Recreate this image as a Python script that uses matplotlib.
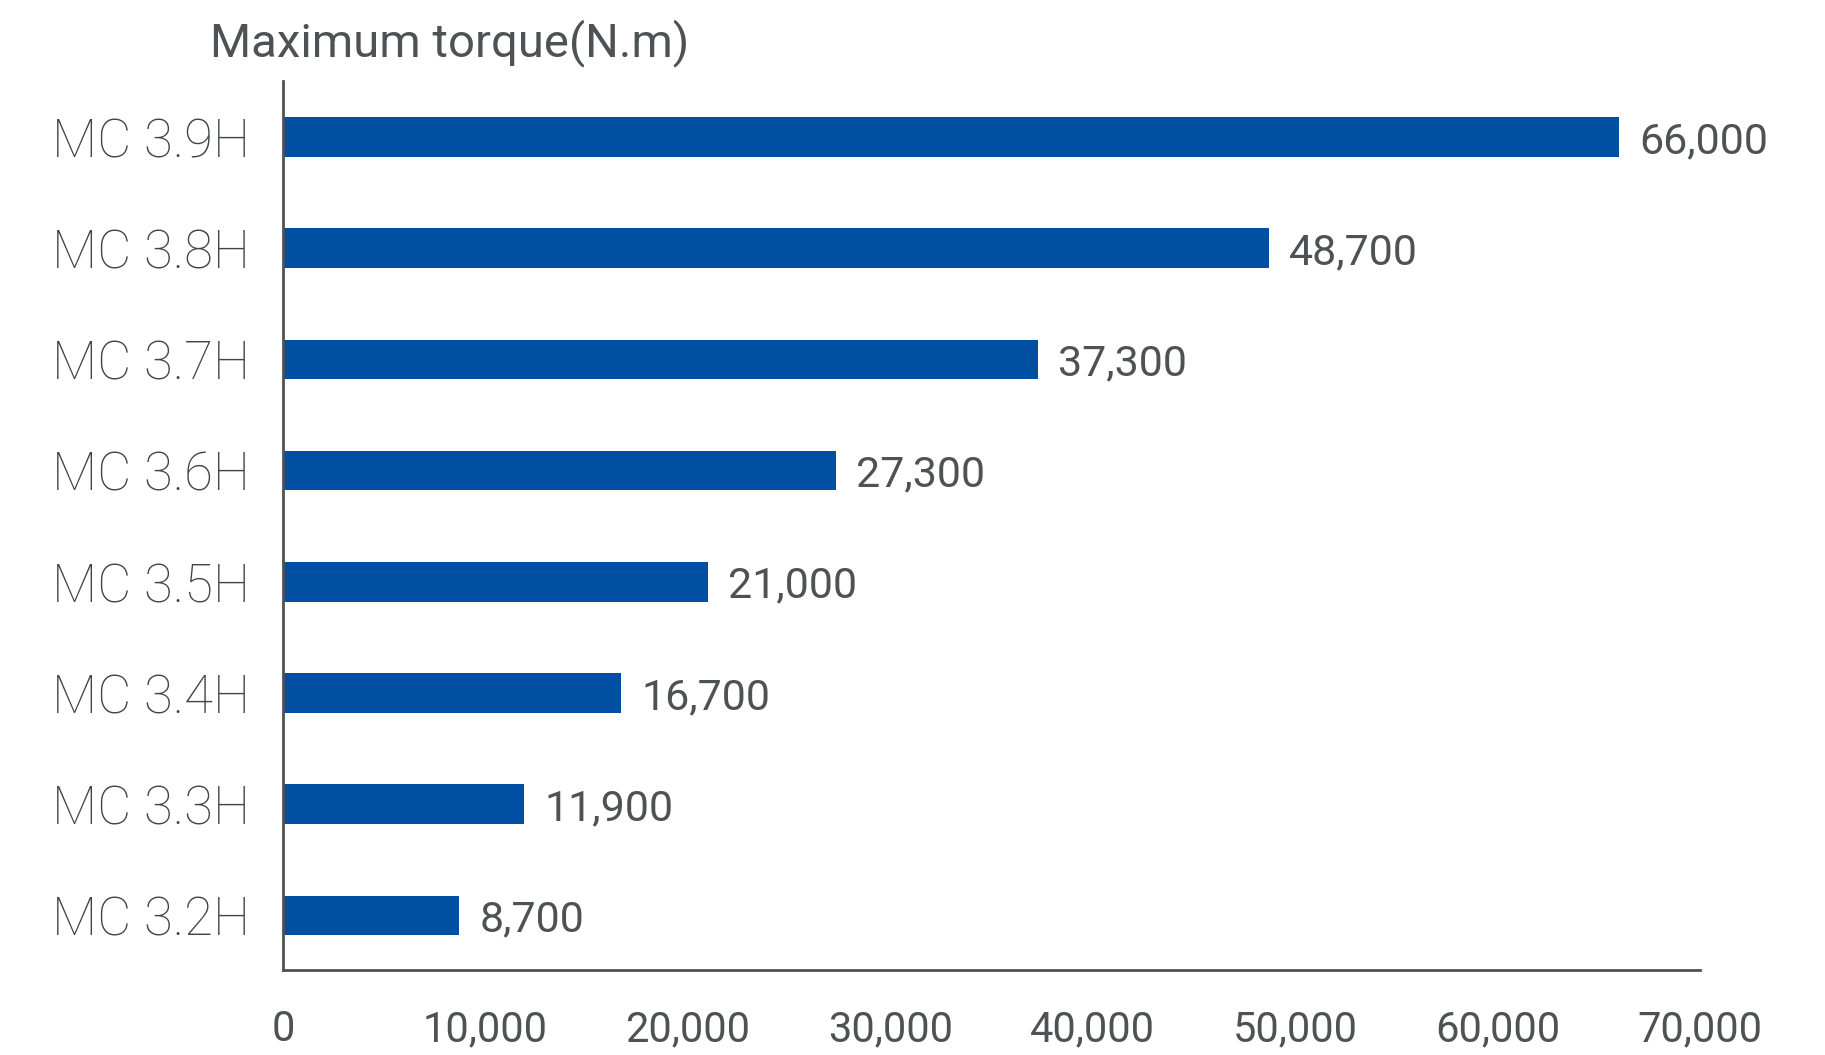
import matplotlib.pyplot as plt

models = ['MC 3.2H', 'MC 3.3H', 'MC 3.4H', 'MC 3.5H', 'MC 3.6H', 'MC 3.7H', 'MC 3.8H', 'MC 3.9H']
torque = [8700, 11900, 16700, 21000, 27300, 37300, 48700, 66000]
xticks = [0, 10000, 20000, 30000, 40000, 50000, 60000, 70000]

grey = '#4d5254'
blue = '#004fa3'

fig = plt.figure(figsize=(18.25, 10.55), dpi=100)
ax = fig.add_axes([0.155, 0.0806, 0.7765, 0.8424])

ypos = list(range(len(models)))
ax.barh(ypos, torque, height=0.356, color=blue)

for y, v in zip(ypos, torque):
    ax.text(v + 1000, y, f'{v:,}', va='center_baseline', ha='left',
            fontsize=31, color=grey, family='Roboto')

ax.set_xlim(0, 70000)
ax.set_ylim(-0.49, 7.5)
ax.set_yticks(ypos)
ax.set_yticklabels(models, fontsize=38, color='#3f4446', family='Roboto', fontweight='light')
ax.set_xticks(xticks)
ax.set_xticklabels([f'{t:,}' for t in xticks], fontsize=30, color=grey, family='Roboto')
ax.tick_params(axis='both', length=0)
ax.tick_params(axis='y', pad=24)
ax.tick_params(axis='x', pad=28)

for s in ['top', 'right']:
    ax.spines[s].set_visible(False)
for s in ['left', 'bottom']:
    ax.spines[s].set_color(grey)
    ax.spines[s].set_linewidth(2)

fig.text(210 / 1825, 1 - 43 / 1055, 'Maximum torque(N.m)', fontsize=34, color=grey,
         family='Roboto', ha='left', va='center')

fig.savefig('out.png', dpi=100)
